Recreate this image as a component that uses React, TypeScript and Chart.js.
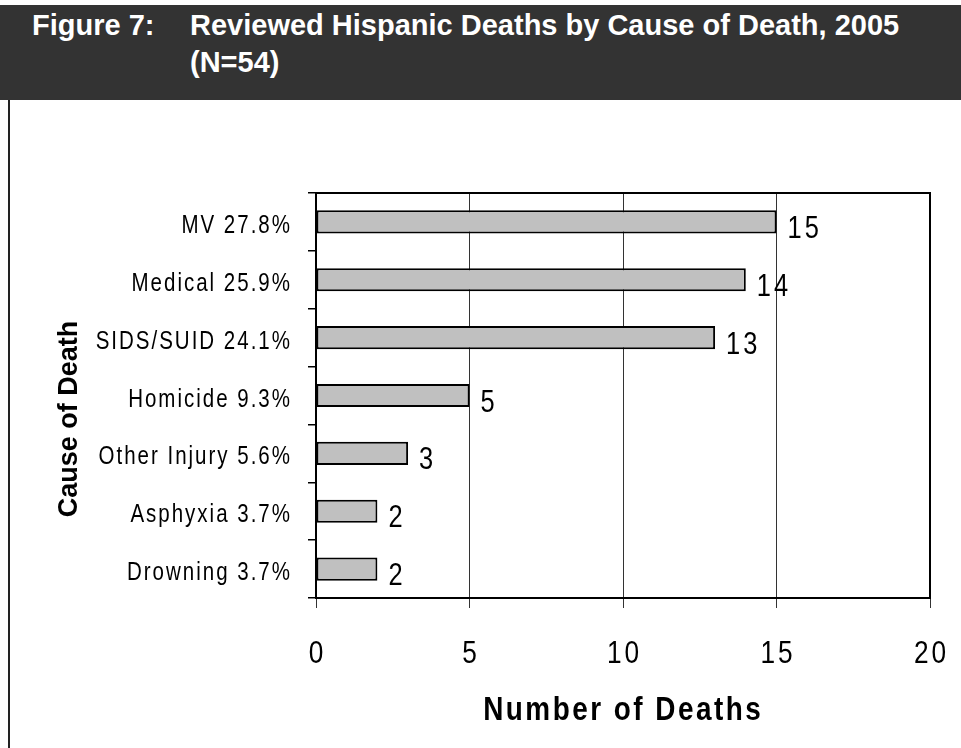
import { useEffect, useRef } from "react";
import { Chart, registerables } from "chart.js";

Chart.register(...registerables);

// Reviewed Hispanic deaths by cause, 2005 (N=54)
const causes = [
  "MV 27.8%",
  "Medical 25.9%",
  "SIDS/SUID 24.1%",
  "Homicide 9.3%",
  "Other Injury 5.6%",
  "Asphyxia 3.7%",
  "Drowning 3.7%",
];
const deaths = [15, 14, 13, 5, 3, 2, 2];
const xMin = 0;
const xMax = 20;
const xStep = 5;

const figureLabel = "Figure 7:";
const titleLines = ["Reviewed Hispanic Deaths by Cause of Death, 2005", "(N=54)"];
const xTitle = "Number of Deaths";
const yTitle = "Cause of Death";

const SANS = '"Liberation Sans", Arial, Helvetica, sans-serif';
// horizontal squeeze giving the condensed look of the axis lettering
const SQUEEZE = 0.82;

function drawCondensed(
  ctx: CanvasRenderingContext2D,
  text: string,
  x: number,
  y: number,
  font: string,
  align: CanvasTextAlign,
  spacing: number
) {
  ctx.save();
  ctx.translate(x, y);
  ctx.scale(SQUEEZE, 1);
  ctx.font = font;
  (ctx as any).letterSpacing = `${spacing / SQUEEZE}px`;
  ctx.textAlign = align;
  ctx.textBaseline = "alphabetic";
  ctx.fillStyle = "#000";
  // keep the trailing letter gap out of the alignment
  let dx = 0;
  if (align === "right") dx = spacing / SQUEEZE;
  if (align === "center") dx = spacing / SQUEEZE / 2;
  ctx.fillText(text, dx, 0);
  ctx.restore();
}

const decorPlugin = {
  id: "decor",
  afterDraw(chart: any) {
    const { ctx, chartArea } = chart;
    const { left, right, top, bottom } = chartArea;
    const xScale = chart.scales.x;
    const yScale = chart.scales.y;
    ctx.save();

    // top and right frame of the plot
    ctx.strokeStyle = "#000";
    ctx.lineWidth = 2;
    ctx.beginPath();
    ctx.moveTo(left, top);
    ctx.lineTo(right, top);
    ctx.lineTo(right, bottom);
    ctx.stroke();

    // category labels
    causes.forEach((label, i) => {
      const y = yScale.getPixelForValue(i);
      drawCondensed(ctx, label, left - 26, y + 11, `25px ${SANS}`, "right", 2);
    });

    // value axis tick labels
    xScale.ticks.forEach((t: any) => {
      const x = xScale.getPixelForValue(t.value);
      drawCondensed(ctx, String(t.value), x, bottom + 65, `32px ${SANS}`, "center", 3);
    });

    // value labels at the end of each bar
    const meta = chart.getDatasetMeta(0);
    meta.data.forEach((bar: any, i: number) => {
      drawCondensed(ctx, String(deaths[i]), bar.x + 11, bar.y + 16, `31px ${SANS}`, "left", 3);
    });

    // x axis title
    drawCondensed(ctx, xTitle, (left + right) / 2 - 1, 720, `bold 34px ${SANS}`, "center", 2.5);

    // y axis title
    ctx.translate(77, 419);
    ctx.rotate(-Math.PI / 2);
    ctx.font = `bold 27px ${SANS}`;
    (ctx as any).letterSpacing = "0px";
    ctx.fillStyle = "#000";
    ctx.textAlign = "center";
    ctx.textBaseline = "alphabetic";
    ctx.fillText(yTitle, 0, 0);
    ctx.restore();
  },
};

export default function App() {
  const canvasRef = useRef<HTMLCanvasElement | null>(null);

  useEffect(() => {
    const canvas = canvasRef.current;
    if (!canvas) return;
    const chart = new Chart(canvas, {
      type: "bar",
      data: {
        labels: causes,
        datasets: [
          {
            data: deaths,
            backgroundColor: "#c0c0c0",
            borderColor: "#000",
            borderWidth: 2,
            borderSkipped: false,
            categoryPercentage: 1,
            barPercentage: 0.4,
          },
        ],
      },
      options: {
        indexAxis: "y",
        responsive: false,
        animation: false,
        devicePixelRatio: 1,
        layout: { padding: { top: 193, right: 31, left: 0, bottom: 0 } },
        plugins: {
          legend: { display: false },
          tooltip: { enabled: false },
          title: { display: false },
        },
        scales: {
          x: {
            type: "linear",
            min: xMin,
            max: xMax,
            afterFit(scale: any) {
              scale.height = 150;
              scale.paddingLeft = 0;
              scale.paddingRight = 0;
            },
            ticks: { stepSize: xStep, display: false },
            grid: {
              color: "#333",
              lineWidth: 1,
              tickLength: 10,
              tickColor: "#333",
              drawTicks: true,
            },
            border: { display: true, color: "#000", width: 2 },
          },
          y: {
            type: "category",
            afterFit(scale: any) {
              scale.width = 316;
              scale.paddingTop = 0;
              scale.paddingBottom = 0;
            },
            ticks: { display: false },
            grid: {
              offset: true,
              drawOnChartArea: false,
              drawTicks: true,
              tickLength: 8,
              tickColor: "#000",
              lineWidth: 1.5,
            },
            border: { display: true, color: "#000", width: 2 },
          },
        },
      },
      plugins: [decorPlugin],
    } as any);
    return () => chart.destroy();
  }, []);

  return (
    <div
      style={{
        position: "absolute",
        left: 0,
        top: 0,
        width: 961,
        height: 748,
        background: "#fff",
        overflow: "hidden",
      }}
    >
      <canvas
        ref={canvasRef}
        width={961}
        height={748}
        style={{ position: "absolute", left: 0, top: 0, width: 961, height: 748 }}
      />
      <div
        style={{
          position: "absolute",
          left: 0,
          top: 5,
          width: 961,
          height: 95,
          background: "#333",
          color: "#fff",
          fontFamily: SANS,
          fontWeight: "bold",
          fontSize: 29,
          lineHeight: "37px",
        }}
      >
        <div style={{ position: "absolute", left: 32, top: 2 }}>{figureLabel}</div>
        <div style={{ position: "absolute", left: 190, top: 2, whiteSpace: "nowrap" }}>
          {titleLines[0]}
          <br />
          {titleLines[1]}
        </div>
      </div>
      <div
        style={{
          position: "absolute",
          left: 8,
          top: 100,
          width: 2,
          height: 648,
          background: "#222",
        }}
      />
    </div>
  );
}
